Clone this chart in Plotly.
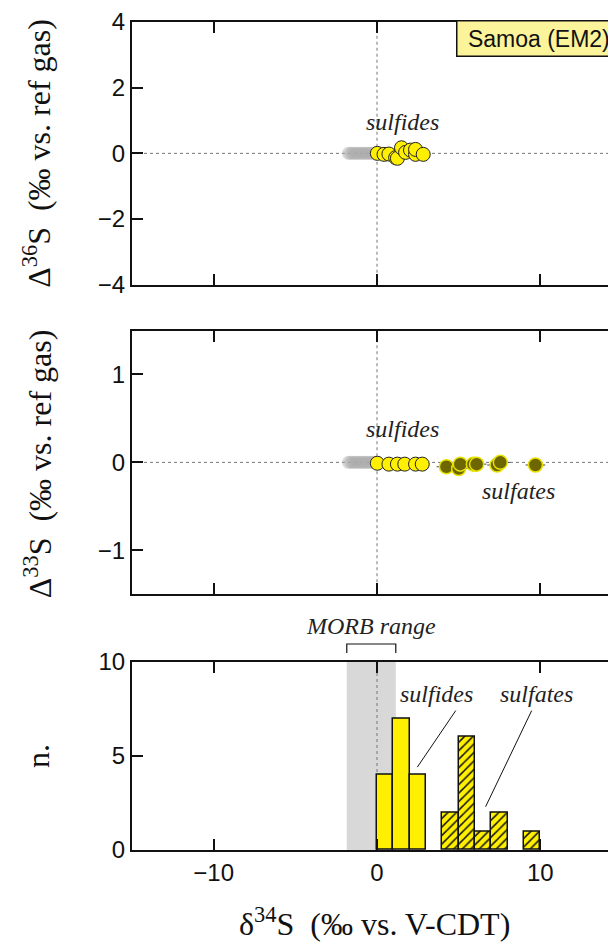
import plotly.graph_objects as go

# ---------------- data ----------------
gray_d34 = [-1.75, -1.6, -1.45, -1.3, -1.15, -1.0, -0.85, -0.7, -0.55, -0.4, -0.25, -0.1]
gray_D36 = [0.0] * len(gray_d34)
gray_D33 = [0.0] * len(gray_d34)

sulfide36_d34 = [0.02, 0.43, 0.73, 1.14, 1.25, 1.5, 1.75, 2.05, 2.36, 2.36, 2.83]
sulfide36_D36 = [0.0, -0.03, -0.02, -0.13, -0.15, 0.17, 0.03, 0.10, -0.03, 0.12, -0.03]

sulfide33_d34 = [0.02, 0.73, 1.25, 1.7, 2.36, 2.77]
sulfide33_D33 = [-0.01, -0.02, -0.02, -0.02, -0.02, -0.02]

sulfate33_d34 = [4.25, 5.0, 5.1, 5.9, 6.1, 7.35, 7.55, 9.7]
sulfate33_D33 = [-0.05, -0.07, -0.02, -0.02, -0.02, -0.03, 0.0, -0.03]
sulfate_err = [0.6] * len(sulfate33_d34)

sulfide_bin_left = [0, 1, 2]
sulfide_counts = [4, 7, 4]
sulfate_bin_left = [4, 5, 6, 7, 9]
sulfate_counts = [2, 6, 1, 2, 1]
bin_width = 1.0

morb_range = [-1.85, 1.15]

x_ticks = [-10, 0, 10]
y36_ticks = [-4, -2, 0, 2, 4]
y33_ticks = [-1, 0, 1]
yn_ticks = [0, 5, 10]

# ---------------- styles ----------------
YEL = "#FFEF00"
SANS = "Liberation Sans"
SERIF = "Liberation Serif"
TICKFONT = dict(family=SANS, size=24, color="#111")

fig = go.Figure()

gray_marker = dict(size=13, color="rgba(170,170,170,0.45)", line=dict(width=0))
sulf_marker = dict(size=14, color=YEL, line=dict(color="#222", width=1))
sulfate_marker = dict(size=14, color="#6E6700", line=dict(color="#E8E200", width=1.5))

# Panel 1
fig.add_trace(go.Scatter(x=gray_d34, y=gray_D36, mode="markers", marker=gray_marker,
                         xaxis="x", yaxis="y", showlegend=False))
fig.add_trace(go.Scatter(x=sulfide36_d34, y=sulfide36_D36, mode="markers", marker=sulf_marker,
                         xaxis="x", yaxis="y", showlegend=False))
# Panel 2
fig.add_trace(go.Scatter(x=gray_d34, y=gray_D33, mode="markers", marker=gray_marker,
                         xaxis="x2", yaxis="y2", showlegend=False))
fig.add_trace(go.Scatter(x=sulfate33_d34, y=sulfate33_D33, mode="markers", marker=sulfate_marker,
                         error_x=dict(type="data", array=sulfate_err, color="#444", thickness=1, width=0),
                         xaxis="x2", yaxis="y2", showlegend=False))
fig.add_trace(go.Scatter(x=sulfide33_d34, y=sulfide33_D33, mode="markers", marker=sulf_marker,
                         xaxis="x2", yaxis="y2", showlegend=False))
# Panel 3 histogram
fig.add_trace(go.Bar(x=sulfide_bin_left, y=sulfide_counts, width=bin_width, offset=0,
                     marker=dict(color=YEL, line=dict(color="#111", width=1.5)),
                     xaxis="x3", yaxis="y3", showlegend=False))
fig.add_trace(go.Bar(x=sulfate_bin_left, y=sulfate_counts, width=bin_width, offset=0,
                     marker=dict(color=YEL, line=dict(color="#111", width=1.5),
                                 pattern=dict(shape="/", fgcolor="#111", bgcolor=YEL,
                                              size=6, solidity=0.25, fillmode="replace")),
                     xaxis="x3", yaxis="y3", showlegend=False))

XR = [-15, 15]
ax_common = dict(showline=True, linecolor="#111", linewidth=2, ticks="inside", ticklen=11,
                 tickwidth=2, tickcolor="#111", showgrid=False, zeroline=False,
                 mirror="ticks", tickfont=TICKFONT)

# NB: the page body has an 8px margin, so the figure sits 8px right/down in the window.
fig.update_layout(
    width=616, height=943,
    margin=dict(l=124, r=0, t=10, b=101),
    paper_bgcolor="white", plot_bgcolor="white",
    bargap=0,
    xaxis=dict(range=XR, domain=[0, 1], anchor="y", tickvals=x_ticks, showticklabels=False, **ax_common),
    yaxis=dict(range=[-4, 4], domain=[0.6827, 1.0], anchor="x", tickvals=y36_ticks, **ax_common),
    xaxis2=dict(range=XR, domain=[0, 1], anchor="y2", tickvals=x_ticks, showticklabels=False, **ax_common),
    yaxis2=dict(range=[-1.5, 1.5], domain=[0.3089, 0.6274], anchor="x2", tickvals=y33_ticks, **ax_common),
    xaxis3=dict(range=XR, domain=[0, 1], anchor="y3", tickvals=x_ticks, **ax_common),
    yaxis3=dict(range=[0, 10], domain=[0, 0.2275], anchor="x3", tickvals=yn_ticks, **ax_common),
)

shapes = []
dot = dict(color="#777", width=1, dash="dot")
for xa, ya in (("x", "y"), ("x2", "y2")):
    shapes.append(dict(type="line", xref=xa + " domain", yref=ya, x0=0, x1=1, y0=0, y1=0,
                       line=dot, layer="below"))
    shapes.append(dict(type="line", xref=xa, yref=ya + " domain", x0=0, x1=0, y0=0, y1=1,
                       line=dot, layer="below"))
shapes.append(dict(type="rect", xref="x3", yref="y3 domain", x0=morb_range[0], x1=morb_range[1],
                   y0=0, y1=1, fillcolor="#d8d8d8", line=dict(width=0), layer="below"))
shapes.append(dict(type="line", xref="x3", yref="y3 domain", x0=0, x1=0, y0=0, y1=1,
                   line=dot, layer="below"))
shapes.append(dict(type="path", xref="x3", yref="paper",
                   path=f"M {morb_range[0]},0.238 L {morb_range[0]},0.2488 L {morb_range[1]},0.2488 L {morb_range[1]},0.238",
                   line=dict(color="#111", width=1.2)))
shapes.append(dict(type="line", xref="x3", yref="y3", x0=4.82, y0=7.4, x1=2.47, y1=4.4,
                   line=dict(color="#111", width=1)))
shapes.append(dict(type="line", xref="x3", yref="y3", x0=9.47, y0=7.4, x1=6.65, y1=2.3,
                   line=dict(color="#111", width=1)))
fig.update_layout(shapes=shapes)

ann = []
ital = dict(family=SERIF, size=24, color="#222")
c = dict(showarrow=False, xanchor="center", yanchor="middle")
ann.append(dict(text="<i>sulfides</i>", x=1.54, y=0.97, xref="x", yref="y", font=ital, **c))
ann.append(dict(text="<i>sulfides</i>", x=1.54, y=0.38, xref="x2", yref="y2", font=ital, **c))
ann.append(dict(text="<i>sulfates</i>", x=8.68, y=-0.32, xref="x2", yref="y2", font=ital, **c))
ann.append(dict(text="<i>sulfides</i>", x=3.64, y=8.29, xref="x3", yref="y3", font=ital, **c))
ann.append(dict(text="<i>sulfates</i>", x=9.78, y=8.29, xref="x3", yref="y3", font=ital, **c))
ann.append(dict(text="<i>MORB range</i>", x=-0.35, y=0.2707, xref="x3", yref="paper", font=ital, **c))
ann.append(dict(text="\u00a0Samoa (EM2)\u00a0", x=4.82, y=4, xref="x", yref="y", xanchor="left", yanchor="top",
                yshift=2, showarrow=False, font=dict(family=SANS, size=23, color="#111"),
                bgcolor="#FCF49A", bordercolor="#111", borderwidth=1.5, borderpad=4))
ttl = dict(family=SERIF, size=32, color="#111")
ann.append(dict(text="\u0394<sup>36</sup>S  (\u2030 vs. ref gas)", x=-0.193, y=0.8413, xref="paper", yref="paper",
                textangle=-90, font=ttl, **c))
ann.append(dict(text="\u0394<sup>33</sup>S  (\u2030 vs. ref gas)", x=-0.193, y=0.4663, xref="paper", yref="paper",
                textangle=-90, font=ttl, **c))
ann.append(dict(text="n.", x=-0.193, y=0.114, xref="paper", yref="paper",
                textangle=-90, font=ttl, **c))
ann.append(dict(text="\u03b4<sup>34</sup>S  (\u2030 vs. V-CDT)", x=0.4939, y=-0.0865, xref="paper", yref="paper",
                font=ttl, **c))
fig.update_layout(annotations=ann)

fig.write_html("out.html")
